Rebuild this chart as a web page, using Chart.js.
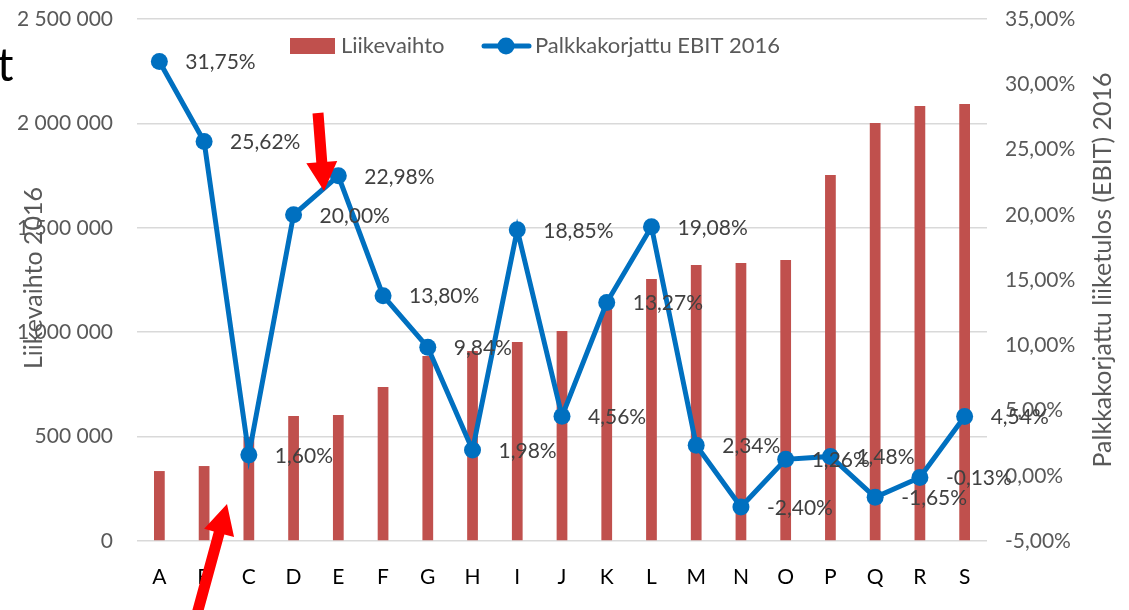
<!DOCTYPE html>
<html>
<head>
<meta charset="utf-8">
<script src="https://cdn.jsdelivr.net/npm/chart.js@4/dist/chart.umd.min.js"></script>
<style>
  html, body { margin: 0; padding: 0; background: #ffffff; }
  #wrap { width: 1129px; height: 610px; position: relative; }
</style>
</head>
<body>
<div id="wrap"><canvas id="c" width="1129" height="610"></canvas></div>
<script>
const categories = ["A","B","C","D","E","F","G","H","I","J","K","L","M","N","O","P","Q","R","S"];
const revenue = [335000, 359000, 498000, 599000, 603000, 737000, 886000, 910000, 953000, 1006000, 1121000, 1255000, 1322000, 1331000, 1346000, 1753000, 2002000, 2083000, 2093000];
const ebitPct = [31.75, 25.62, 1.60, 20.00, 22.98, 13.80, 9.84, 1.98, 18.85, 4.56, 13.27, 19.08, 2.34, -2.40, 1.26, 1.48, -1.65, -0.13, 4.54];
const leftTicks = [0, 500000, 1000000, 1500000, 2000000, 2500000];
const rightTicks = [-5, 0, 5, 10, 15, 20, 25, 30, 35];
const seriesNames = ["Liikevaihto", "Palkkakorjattu EBIT 2016"];
const axisTitles = ["Liikevaihto 2016", "Palkkakorjattu liiketulos (EBIT) 2016"];

const FONT = "Lato, 'Open Sans', sans-serif";
const fmtThousands = v => String(v).replace(/\B(?=(\d{3})+(?!\d))/g, ' ');
const fmtPct = v => v.toFixed(2).replace('.', ',') + '%';

function arrow(ctx, tx, ty, hx, hy, w, hl, hw) {
  const dx = hx - tx, dy = hy - ty;
  const len = Math.hypot(dx, dy);
  const ux = dx / len, uy = dy / len;
  const px = -uy, py = ux;
  const bx = hx - ux * hl, by = hy - uy * hl;
  ctx.beginPath();
  ctx.moveTo(tx + px * w / 2, ty + py * w / 2);
  ctx.lineTo(bx + px * w / 2, by + py * w / 2);
  ctx.lineTo(bx + px * hw / 2, by + py * hw / 2);
  ctx.lineTo(hx, hy);
  ctx.lineTo(bx - px * hw / 2, by - py * hw / 2);
  ctx.lineTo(bx - px * w / 2, by - py * w / 2);
  ctx.lineTo(tx - px * w / 2, ty - py * w / 2);
  ctx.closePath();
  ctx.fillStyle = '#FF0000';
  ctx.fill();
}

const overlay = {
  id: 'overlay',
  afterDatasetsDraw(chart) {
    const ctx = chart.ctx;
    const area = chart.chartArea;
    ctx.save();
    // data labels
    const meta = chart.getDatasetMeta(1);
    ctx.font = '21px ' + FONT;
    ctx.fillStyle = '#404040';
    ctx.textBaseline = 'middle';
    ctx.textAlign = 'left';
    meta.data.forEach((pt, i) => {
      ctx.fillText(fmtPct(ebitPct[i]), pt.x + 26, pt.y + 1);
    });
    // legend
    ctx.fillStyle = '#C0504D';
    ctx.fillRect(290, 38, 45, 16);
    ctx.fillStyle = '#595959';
    ctx.font = '22px ' + FONT;
    ctx.fillText(seriesNames[0], 341, 46);
    ctx.strokeStyle = '#0070C0';
    ctx.lineWidth = 5;
    ctx.lineCap = 'round';
    ctx.beginPath();
    ctx.moveTo(484, 46); ctx.lineTo(529, 46); ctx.stroke();
    ctx.fillStyle = '#0070C0';
    ctx.beginPath(); ctx.arc(506, 46, 8.5, 0, Math.PI * 2); ctx.fill();
    ctx.fillStyle = '#595959';
    ctx.fillText(seriesNames[1], 535, 46);
    // axis titles
    ctx.font = '25px ' + FONT;
    const cy = (area.top + area.bottom) / 2;
    ctx.textAlign = 'center';
    ctx.save();
    ctx.translate(34, cy - 2);
    ctx.rotate(-Math.PI / 2);
    ctx.fillText(axisTitles[0], 0, 0);
    ctx.restore();
    ctx.save();
    ctx.translate(1103, cy - 10);
    ctx.rotate(-Math.PI / 2);
    ctx.fillText(axisTitles[1], 0, 0);
    ctx.restore();
    // cut-off title letter
    ctx.fillStyle = '#000000';
    ctx.textAlign = 'left';
    ctx.textBaseline = 'alphabetic';
    ctx.font = '46px ' + FONT;
    ctx.fillText('t', -3, 81);
    // arrows
    arrow(ctx, 318, 113, 324, 191, 11, 29, 31);
    arrow(ctx, 197, 614, 227, 504, 11, 30, 31);
    ctx.restore();
  }
};

function noPad(s) { s.paddingTop = 0; s.paddingBottom = 0; }

new Chart(document.getElementById('c'), {
  data: {
    labels: categories,
    datasets: [
      {
        type: 'bar',
        label: seriesNames[0],
        data: revenue,
        backgroundColor: '#C0504D',
        yAxisID: 'y',
        categoryPercentage: 1,
        barPercentage: 0.24,
        order: 2
      },
      {
        type: 'line',
        label: seriesNames[1],
        data: ebitPct,
        borderColor: '#0070C0',
        backgroundColor: '#0070C0',
        borderWidth: 5,
        pointRadius: 8.5,
        pointHoverRadius: 8.5,
        pointBackgroundColor: '#0070C0',
        pointBorderWidth: 0,
        tension: 0,
        yAxisID: 'y1',
        order: 1
      }
    ]
  },
  options: {
    responsive: false,
    animation: false,
    devicePixelRatio: 1,
    layout: { padding: { top: 19, left: 0, right: 0, bottom: 0 } },
    plugins: { legend: { display: false }, tooltip: { enabled: false } },
    scales: {
      x: {
        type: 'category',
        offset: true,
        grid: { display: false, drawTicks: false },
        border: { display: false },
        ticks: { color: '#000000', font: { family: FONT, size: 21 }, padding: 24, maxRotation: 0, autoSkip: false },
        afterFit(s) { s.height = 69; s.paddingLeft = 0; s.paddingRight = 0; }
      },
      y: {
        position: 'left',
        min: 0, max: 2500000,
        afterBuildTicks(s) { s.ticks = leftTicks.map(v => ({ value: v })); },
        grid: { color: '#D9D9D9', lineWidth: 1.5, drawTicks: false },
        border: { display: false },
        ticks: { color: '#595959', font: { family: FONT, size: 21 }, padding: 24, callback: v => fmtThousands(v) },
        afterFit(s) { s.width = 137; noPad(s); }
      },
      y1: {
        position: 'right',
        min: -5, max: 35,
        afterBuildTicks(s) { s.ticks = rightTicks.map(v => ({ value: v })); },
        grid: { display: false, drawTicks: false },
        border: { display: false },
        ticks: { color: '#595959', font: { family: FONT, size: 21 }, padding: 18, callback: v => fmtPct(v) },
        afterFit(s) { s.width = 142; noPad(s); }
      }
    }
  },
  plugins: [overlay]
});
</script>
</body>
</html>
